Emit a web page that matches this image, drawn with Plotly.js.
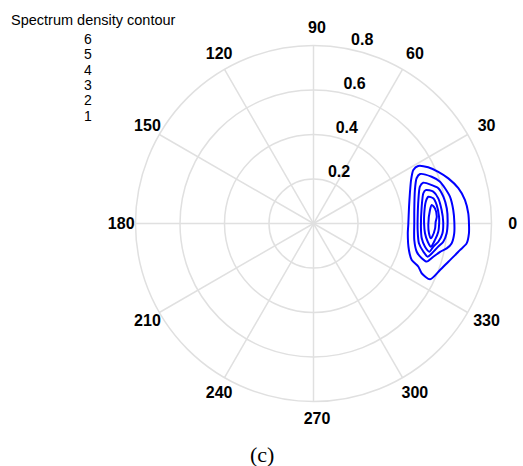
<!DOCTYPE html>
<html>
<head>
<meta charset="utf-8">
<script src="https://cdn.plot.ly/plotly-3.0.1.min.js"></script>
<style>
  html, body { margin: 0; padding: 0; background: #ffffff; }
  #chart { width: 523px; height: 466px; }
</style>
</head>
<body>
<div id="chart"></div>
<script>
// Spectrum density contour levels, traced as (theta in degrees, r) loops
const level1Theta = [28.8, 26.1, 22.5, 18.5, 13.7, 8.8, 3.8, -0.6, -3.6, -7.4, -10.3, -12.6, -15.8, -20.2, -25.6, -24.7, -22.4, -20.4, -15.5, -5.9, -0.9, 10.0, 17.4, 24.0, 28.2, 28.8];
const level1R     = [0.537, 0.574, 0.607, 0.639, 0.670, 0.689, 0.697, 0.699, 0.700, 0.694, 0.669, 0.652, 0.630, 0.606, 0.581, 0.535, 0.510, 0.471, 0.445, 0.426, 0.426, 0.436, 0.454, 0.480, 0.509, 0.537];

const level2Theta = [24.9, 21.6, 18.3, 15.0, 11.1, 5.5, 0.6, -4.0, -8.2, -10.6, -12.6, -15.5, -18.6, -17.8, -15.3, -9.3, 0.9, 7.6, 18.3, 23.7, 24.9];
const level2R     = [0.528, 0.571, 0.599, 0.612, 0.625, 0.631, 0.633, 0.634, 0.627, 0.609, 0.583, 0.559, 0.537, 0.511, 0.481, 0.459, 0.453, 0.457, 0.480, 0.506, 0.528];

const level3Theta = [20.4, 18.0, 15.8, 11.7, 6.5, 0.6, -4.2, -8.0, -10.5, -14.2, -16.2, -14.4, -10.6, -3.6, 4.7, 12.6, 19.1, 20.4];
const level3R     = [0.526, 0.559, 0.583, 0.596, 0.603, 0.603, 0.600, 0.589, 0.570, 0.548, 0.534, 0.510, 0.482, 0.469, 0.470, 0.483, 0.506, 0.526];

const level4Theta = [16.6, 14.9, 11.4, 6.0, 0.7, -4.4, -8.3, -11.0, -13.7, -11.8, -7.8, -1.7, 8.8, 15.4, 16.6];
const level4R     = [0.526, 0.557, 0.572, 0.579, 0.583, 0.581, 0.567, 0.548, 0.536, 0.512, 0.491, 0.483, 0.492, 0.512, 0.526];

const level5Theta = [13.1, 11.9, 8.5, 3.1, 0.7, -3.8, -7.7, -11.2, -9.1, -5.0, 0.1, 5.3, 11.0, 13.1];
const level5R     = [0.530, 0.550, 0.560, 0.565, 0.565, 0.562, 0.551, 0.538, 0.520, 0.503, 0.497, 0.500, 0.514, 0.530];

const level6Theta = [8.9, 7.1, 3.2, 0.7, -2.3, -6.3, -7.2, -4.9, -0.8, 6.6, 8.9];
const level6R     = [0.538, 0.550, 0.555, 0.549, 0.547, 0.537, 0.532, 0.521, 0.516, 0.527, 0.538];

// Axis ticks and legend entries
const angleTicks  = [0, 30, 60, 90, 120, 150, 180, 210, 240, 270, 300, 330];
const radialTicks = [0.2, 0.4, 0.6, 0.8];
const legendTitle = 'Spectrum density contour';
const legendLevels = ['6', '5', '4', '3', '2', '1'];
const caption = '(c)';

const W = 523, H = 466;
const cx = 313.5, cy = 223.5;      // pole position in pixels
const rMax = 0.8;
const pxPerUnit = 178 / rMax;
const labelRange = 0.9;             // overlay subplot holding the axis labels
const labelShiftX = 3.5, labelShiftY = 1;
const angleLabelR = 1.1 * rMax;
const radialLabelAngle = 80;

function domainFor(halfPx, ox, oy) {
  return {
    x: [(ox - halfPx) / W, (ox + halfPx) / W],
    y: [1 - (oy + halfPx) / H, 1 - (oy - halfPx) / H]
  };
}

const sans = 'Liberation Sans, Arial, Helvetica, sans-serif';
const gridColor = '#e0e0e0';

const loops = [
  [level1Theta, level1R], [level2Theta, level2R], [level3Theta, level3R],
  [level4Theta, level4R], [level5Theta, level5R], [level6Theta, level6R]
];

const traces = loops.map(([th, r]) => ({
  type: 'scatterpolar',
  subplot: 'polar',
  mode: 'lines',
  theta: th,
  r: r,
  line: { color: '#0000ff', width: 2, shape: 'spline', smoothing: 0.7 },
  hoverinfo: 'skip'
}));

// angular tick labels, centred on a circle just outside the plot
traces.push({
  type: 'scatterpolar',
  subplot: 'polar2',
  mode: 'text',
  r: angleTicks.map(() => angleLabelR),
  theta: angleTicks,
  text: angleTicks.map(String),
  textposition: 'middle center',
  textfont: { family: sans, size: 16, color: '#000000', weight: 'bold' },
  cliponaxis: false,
  hoverinfo: 'skip'
});

// radial tick labels along the 80 degree ray, set slightly off the ray
traces.push({
  type: 'scatterpolar',
  subplot: 'polar2',
  mode: 'text',
  r: radialTicks,
  theta: radialTicks.map(() => radialLabelAngle),
  text: radialTicks.map(v => '\u2009' + v.toFixed(1)),
  textposition: 'top right',
  textfont: { family: sans, size: 16, color: '#000000', weight: 'bold' },
  cliponaxis: false,
  hoverinfo: 'skip'
});

const annotations = [
  {
    xref: 'paper', yref: 'paper', x: 93 / W, y: 1 - 20 / H,
    xanchor: 'center', yanchor: 'middle', showarrow: false,
    text: legendTitle, font: { family: sans, size: 14.5, color: '#000000' }
  },
  ...legendLevels.map((lv, i) => ({
    xref: 'paper', yref: 'paper', x: 88 / W, y: 1 - (39 + i * 15.3) / H,
    xanchor: 'center', yanchor: 'middle', showarrow: false,
    text: lv, font: { family: sans, size: 14, color: '#000000' }
  })),
  {
    xref: 'paper', yref: 'paper', x: 261.5 / W, y: -3 / H,
    xanchor: 'center', yanchor: 'bottom', showarrow: false,
    text: caption, font: { family: 'Liberation Serif, Times New Roman, serif', size: 22, color: '#000000' }
  }
];

const layout = {
  width: W, height: H,
  margin: { l: 0, r: 0, t: 0, b: 0, pad: 0 },
  paper_bgcolor: '#ffffff',
  showlegend: false,
  hovermode: false,
  polar: {
    domain: domainFor(178, cx, cy),
    bgcolor: '#ffffff',
    radialaxis: {
      range: [0, rMax], tickvals: radialTicks, showticklabels: false, ticks: '',
      showline: false, gridcolor: gridColor, gridwidth: 1.5
    },
    angularaxis: {
      tickvals: angleTicks, showticklabels: false, ticks: '',
      direction: 'counterclockwise', rotation: 0,
      showline: true, linecolor: gridColor, linewidth: 1.5,
      gridcolor: gridColor, gridwidth: 1.5
    }
  },
  polar2: {
    domain: domainFor(labelRange * pxPerUnit, cx + labelShiftX, cy + labelShiftY),
    bgcolor: 'rgba(0,0,0,0)',
    radialaxis: { range: [0, labelRange], visible: false },
    angularaxis: { visible: false, direction: 'counterclockwise', rotation: 0 }
  },
  annotations: annotations
};

Plotly.newPlot('chart', traces, layout, { displayModeBar: false, staticPlot: true });
</script>
</body>
</html>
